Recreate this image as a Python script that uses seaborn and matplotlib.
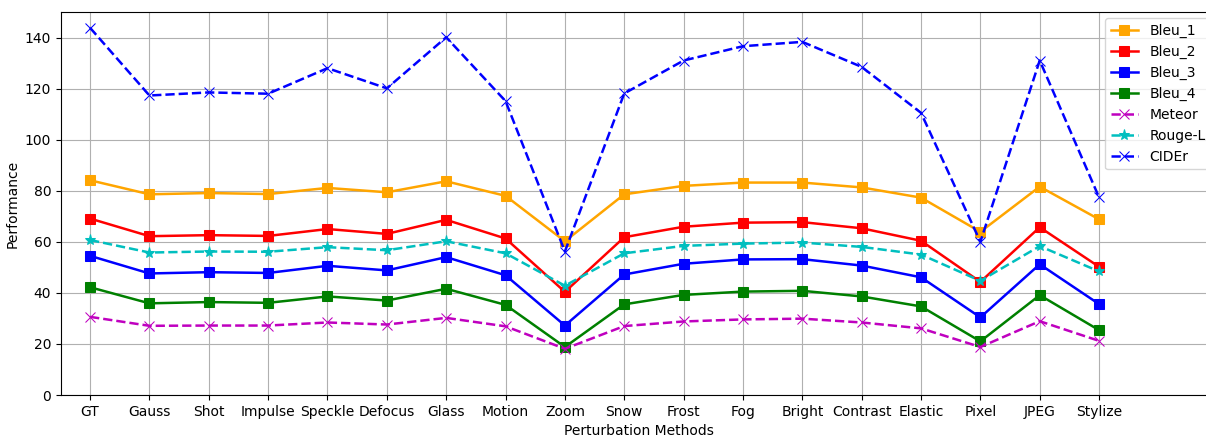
import matplotlib
matplotlib.use("Agg")
import matplotlib.pyplot as plt
import seaborn as sns
import pandas as pd

categories = ["GT", "Gauss", "Shot", "Impulse", "Speckle", "Defocus", "Glass", "Motion", "Zoom",
              "Snow", "Frost", "Fog", "Bright", "Contrast", "Elastic", "Pixel", "JPEG", "Stylize"]

bleu_1 = [84.1, 78.6, 79.1, 78.7, 81.1, 79.4, 83.7, 78.0, 60.2, 78.6, 81.9, 83.2, 83.2, 81.3, 77.3, 63.9, 81.6, 68.8]
bleu_2 = [69.1, 62.2, 62.6, 62.3, 65.0, 63.1, 68.6, 61.3, 40.4, 61.8, 65.9, 67.5, 67.7, 65.3, 60.4, 44.3, 65.7, 50.2]
bleu_3 = [54.5, 47.6, 48.1, 47.8, 50.6, 48.8, 54.0, 46.9, 27.2, 47.2, 51.4, 53.1, 53.2, 50.7, 46.1, 30.4, 51.2, 35.6]
bleu_4 = [42.2, 35.9, 36.4, 36.1, 38.6, 37.0, 41.6, 35.3, 18.8, 35.5, 39.2, 40.5, 40.8, 38.6, 34.7, 21.0, 39.1, 25.4]
meteor = [30.6, 27.1, 27.2, 27.2, 28.4, 27.6, 30.2, 26.9, 18.1, 27.0, 28.8, 29.6, 29.9, 28.4, 26.1, 18.8, 28.9, 21.2]
rouge_l = [60.7, 55.8, 56.2, 56.1, 57.9, 56.7, 60.2, 55.5, 42.8, 55.5, 58.4, 59.3, 59.7, 58.0, 55.0, 44.7, 58.3, 48.4]
cider = [143.8, 117.3, 118.5, 118.0, 128.0, 120.1, 140.1, 115.1, 56.2, 118.1, 131.0, 136.6, 138.3, 128.5, 110.5, 60.0, 131.0, 77.4]

series = [
    ("Bleu_1", bleu_1, "orange", "s", "-"),
    ("Bleu_2", bleu_2, "red", "s", "-"),
    ("Bleu_3", bleu_3, "blue", "s", "-"),
    ("Bleu_4", bleu_4, "green", "s", "-"),
    ("Meteor", meteor, "m", "x", "--"),
    ("Rouge-L", rouge_l, "c", "*", "--"),
    ("CIDEr", cider, "b", "x", "--"),
]

W, H = 1206, 436
fig = plt.figure(figsize=(W / 100, H / 100), dpi=100)
ax = fig.add_axes([61 / W, (H - 395) / H, (1216 - 61) / W, (395 - 12) / H])

xpos = list(range(len(categories)))
for name, vals, color, marker, ls in series:
    df = pd.DataFrame({"x": xpos, "y": vals})
    sns.lineplot(data=df, x="x", y="y", ax=ax, color=color, marker=marker, linestyle=ls,
                 label=name, markersize=7 if marker != "*" else 8, markeredgecolor=color,
                 linewidth=1.8)

ax.set_xticks(xpos)
ax.set_xticklabels(categories, fontsize=10)
ax.set_xlim(-0.49, 18.97)
ax.set_ylim(0, 150)
ax.set_yticks([0, 20, 40, 60, 80, 100, 120, 140])
ax.grid(True, color="#b0b0b0", linewidth=0.8)
ax.set_axisbelow(True)
ax.set_xlabel("Perturbation Methods", fontsize=10)
ax.set_ylabel("Performance", fontsize=10)

ax.legend(loc="upper left", bbox_to_anchor=(1105 / W, 1 - 18 / H), bbox_transform=fig.transFigure,
          fontsize=10, framealpha=0.8, borderaxespad=0)

fig.savefig("out.png", dpi=100)
